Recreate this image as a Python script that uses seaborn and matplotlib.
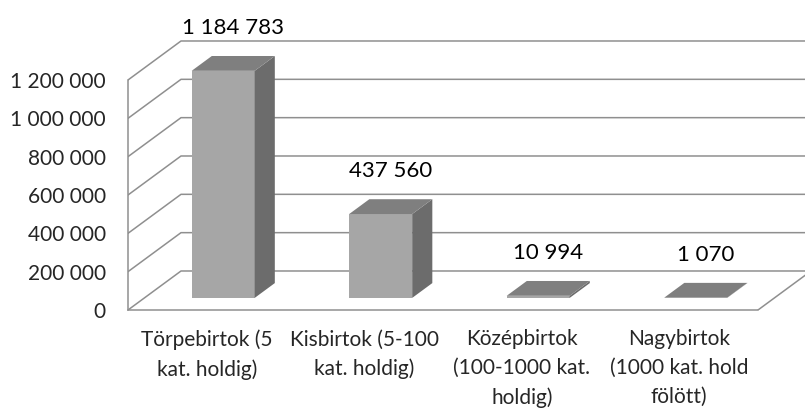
import numpy as np
import pandas as pd
import seaborn as sns
import matplotlib.pyplot as plt
from matplotlib.patches import Polygon

# data
categories = ["Törpebirtok (5\nkat. holdig)",
              "Kisbirtok (5-100\nkat. holdig)",
              "Középbirtok\n(100-1000 kat.\nholdig)",
              "Nagybirtok\n(1000 kat. hold\nfölött)"]
values = [1184783, 437560, 10994, 1070]
yticks = [0, 200000, 400000, 600000, 800000, 1000000, 1200000]
ytick_labels = ["0", "200 000", "400 000", "600 000", "800 000", "1 000 000", "1 200 000"]

sns.set_style("white")
plt.rcParams['font.family'] = ['Lato', 'DejaVu Sans']

# fake 3D depth (category units / value units)
DX = 0.3365
DY = 203500
F0, F1 = 0.31, 0.69   # bar sits between these depth fractions

LINE = '#8f8f8f'
FRONT, SIDE, TOP = '#a6a6a6', '#6c6c6c', '#7f7f7f'

df = pd.DataFrame({"cat": categories, "val": values})

fig = plt.figure(figsize=(8.05, 4.11), dpi=100)
ax = fig.add_axes([128 / 805, 101 / 411, 1 - 128 / 805, 310 / 411])

sns.barplot(data=df, x="cat", y="val", color=FRONT, width=0.4, saturation=1,
            edgecolor='none', linewidth=0, ax=ax, zorder=3)

xmax = -0.5 + (805 - 128) / 157.5
ax.set_xlim(-0.5, xmax)
ax.set_ylim(0, 310 / 191.67 * 1e6)

# wall / floor gridlines
for v in yticks:
    ax.plot([-0.5, -0.5 + DX, xmax + 1], [v, v + DY, v + DY], color=LINE, lw=1.1, zorder=1)
ax.plot([3.5, 3.5 + DX], [0, DY], color=LINE, lw=1.1, zorder=1)

# push bars back in depth and add top / side faces
ddx = (F1 - F0) * DX
ddy = (F1 - F0) * DY
for p, v in zip(ax.patches[:len(values)], values):
    x = p.get_x() + F0 * DX
    y0 = F0 * DY
    w = p.get_width()
    h = p.get_height()
    p.set_x(x)
    p.set_y(y0)
    top = Polygon([(x, y0 + h), (x + w, y0 + h), (x + w + ddx, y0 + h + ddy), (x + ddx, y0 + h + ddy)],
                  closed=True, facecolor=TOP, edgecolor='none', zorder=3)
    side = Polygon([(x + w, y0), (x + w + ddx, y0 + ddy), (x + w + ddx, y0 + h + ddy), (x + w, y0 + h)],
                   closed=True, facecolor=SIDE, edgecolor='none', zorder=3)
    ax.add_patch(side)
    ax.add_patch(top)
    ax.annotate(f"{v:,}".replace(",", " "), (x + w / 2 + ddx / 2, y0 + h + ddy),
                xytext=(0, 16), textcoords='offset points', ha='center', va='baseline',
                fontsize=16, color='black', zorder=4)

# axes
for s in ['top', 'right']:
    ax.spines[s].set_visible(False)
ax.spines['left'].set_bounds(0, 1200000)
ax.spines['bottom'].set_bounds(-0.5, 3.5)
for s in ['left', 'bottom']:
    ax.spines[s].set_color(LINE)
    ax.spines[s].set_linewidth(1.1)

ax.set_yticks(yticks)
ax.set_yticklabels(ytick_labels)
ax.set_xticks(range(len(categories)))
ax.set_xticklabels(categories, linespacing=1.55)
ax.set_xticks([-0.5, 0.5, 1.5, 2.5, 3.5], minor=True)
ax.tick_params(axis='y', direction='out', length=3, width=1.1, color=LINE, pad=13, labelsize=15)
ax.tick_params(axis='x', which='major', length=0, pad=14, labelsize=15)
ax.tick_params(axis='x', which='minor', direction='out', length=4, width=1.1, color=LINE)
ax.set_xlabel("")
ax.set_ylabel("")

fig.savefig("out.png", dpi=100)
